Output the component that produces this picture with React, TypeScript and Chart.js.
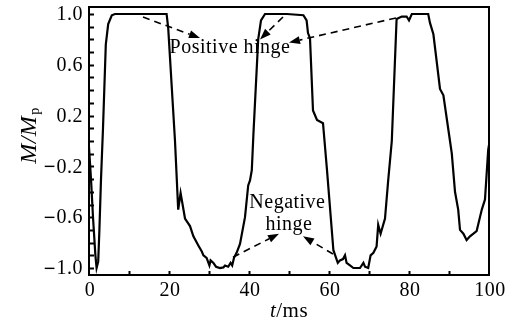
import React, { useEffect, useRef } from "react";
import { Chart, registerables } from "chart.js";

Chart.register(...registerables);

// time in ms
const timeMs = [
  0, 0.5, 1.0, 1.6, 1.9, 2.3, 2.6, 3.0, 3.5, 4.2, 4.8, 5.7, 6.5,
  19.4, 19.8, 21.5, 22.3, 22.9, 24.0, 25.25, 26.1, 27.3, 28.2, 28.6, 29.4,
  30.1, 30.4, 31.1, 31.75, 32.75, 33.6, 34.0, 34.8, 35.4, 35.8, 36.25, 36.9,
  37.75, 39.0, 39.8, 40.25, 40.7, 41.1, 42.3, 43.0, 44.0, 49.5, 53.6, 54.4,
  54.75, 55.25, 56.0, 57.0, 58.5, 59.5, 61.1, 62.2, 62.75, 63.5, 64.0, 64.4,
  65.25, 66.1, 67.75, 68.6, 69.0, 69.8, 70.4, 71.1, 71.9, 72.3, 72.9, 74.0,
  74.8, 75.7, 76.9, 78.2, 79.4, 80.0, 80.7, 84.4, 84.8, 85.25, 86.1, 87.75,
  88.6, 90.25, 90.7, 91.5, 92.3, 92.75, 93.6, 94.4, 95.25, 96.1, 96.9, 98.2,
  99.0, 99.8, 100,
];
// moment ratio M/Mp
const momentRatio = [
  -0.05, -0.3, -0.6, -0.9, -1.0, -0.95, -0.7, -0.3, 0.1, 0.76, 0.92, 0.99, 1.0,
  1.0, 0.89, 0.0, -0.54, -0.41, -0.61, -0.67, -0.75, -0.82, -0.87, -0.9, -0.92,
  -0.98, -0.94, -0.96, -0.99, -1.0, -0.995, -0.98, -0.99, -0.96, -0.98, -0.92, -0.88,
  -0.81, -0.6, -0.35, -0.31, -0.23, 0.05, 0.8, 0.95, 1.0, 1.0, 0.99, 0.95,
  0.85, 0.81, 0.24, 0.165, 0.14, -0.23, -0.86, -0.96, -0.94, -0.93, -0.9, -0.96,
  -0.98, -1.0, -1.0, -0.96, -0.99, -1.0, -0.9, -0.88, -0.83, -0.66, -0.73, -0.61,
  -0.31, 0.0, 0.96, 0.98, 0.98, 0.95, 1.0, 1.0, 1.0, 0.93, 0.84, 0.41,
  0.36, 0.0, -0.1, -0.4, -0.54, -0.7, -0.73, -0.78, -0.75, -0.73, -0.71, -0.54,
  -0.46, -0.07, -0.03,
];

const yLabelValues = [1.0, 0.6, 0.2, -0.2, -0.6, -1.0];
const yTickLabels = ["1.0", "0.6", "0.2", "\u22120.2", "\u22120.6", "\u22121.0"];
const yTickMarks = [
  -1.0, -0.9, -0.8, -0.7, -0.6, -0.5, -0.4, -0.3, -0.2, -0.1, 0,
  0.1, 0.2, 0.3, 0.4, 0.5, 0.6, 0.7, 0.8, 0.9, 1.0,
];
const xLabelValues = [0, 20, 40, 60, 80, 100];
const xTickLabels = ["0", "20", "40", "60", "80", "100"];
const xTickMarks = [10, 20, 30, 40, 50, 60, 70, 80, 90];

// annotation arrows in data units: [tailT, tailM, tipT, tipM]
const positiveArrows = [
  [13.5, 0.976, 27.75, 0.81],
  [48.5, 0.976, 42.75, 0.8],
  [76.75, 0.969, 50.0, 0.775],
];
const negativeArrows = [
  [36.0, -0.915, 47.5, -0.73],
  [61.0, -0.89, 53.5, -0.75],
];

const SERIF = '"Liberation Serif", "Times New Roman", serif';

const drawPlugin = {
  id: "decor",
  afterDraw(chart: any) {
    const ctx = chart.ctx as CanvasRenderingContext2D;
    const xs = chart.scales.x;
    const ys = chart.scales.y;
    const a = chart.chartArea;
    ctx.save();
    ctx.strokeStyle = "#000";
    ctx.fillStyle = "#000";
    // frame
    ctx.lineWidth = 2;
    ctx.strokeRect(a.left, a.top, a.right - a.left, a.bottom - a.top);
    // ticks
    ctx.lineWidth = 2;
    ctx.beginPath();
    yTickMarks.forEach((v) => {
      const py = Math.round(ys.getPixelForValue(v)) + 0.5;
      ctx.moveTo(a.left, py);
      ctx.lineTo(a.left + 5, py);
    });
    xTickMarks.forEach((v) => {
      const px = Math.round(xs.getPixelForValue(v)) + 0.5;
      ctx.moveTo(px, a.bottom);
      ctx.lineTo(px, a.bottom - 4);
    });
    ctx.stroke();

    // tick labels
    (ctx as any).letterSpacing = "0.5px";
    ctx.textBaseline = "middle";
    yLabelValues.forEach((v, i) => {
      const label = yTickLabels[i];
      const py = ys.getPixelForValue(v) + 1;
      const rx = a.left - 6;
      ctx.font = `20px ${SERIF}`;
      ctx.textAlign = "right";
      if (label.startsWith("\u2212")) {
        const rest = label.slice(1);
        ctx.fillText(rest, rx, py);
        const w = ctx.measureText(rest).width;
        ctx.font = `20px "Liberation Sans", sans-serif`;
        ctx.fillText("\u2212", rx - w - 0.5, py);
      } else {
        ctx.fillText(label, rx, py);
      }
    });
    ctx.font = `20px ${SERIF}`;
    ctx.textAlign = "center";
    ctx.textBaseline = "alphabetic";
    xLabelValues.forEach((v, i) => {
      ctx.fillText(xTickLabels[i], xs.getPixelForValue(v) + 1, a.bottom + 21);
    });

    // x title: t/ms
    ctx.textAlign = "left";
    ctx.font = `italic 21px ${SERIF}`;
    const tW = ctx.measureText("t").width;
    ctx.font = `21px ${SERIF}`;
    const rW = ctx.measureText("/ms").width;
    const cx = (a.left + a.right) / 2;
    const sx = cx - (tW + rW) / 2;
    ctx.font = `italic 21px ${SERIF}`;
    ctx.fillText("t", sx, a.bottom + 42);
    ctx.font = `21px ${SERIF}`;
    ctx.fillText("/ms", sx + tW, a.bottom + 42);

    // y title: M/Mp
    ctx.save();
    ctx.translate(36, (a.top + a.bottom) / 2 - 5);
    ctx.rotate(-Math.PI / 2);
    ctx.font = `italic 24px ${SERIF}`;
    const mW = ctx.measureText("M/M").width;
    ctx.font = `14px ${SERIF}`;
    const pW = ctx.measureText("p").width;
    const start = -(mW + pW) / 2;
    ctx.font = `italic 24px ${SERIF}`;
    ctx.fillText("M/M", start, 0);
    ctx.font = `14px ${SERIF}`;
    ctx.fillText("p", start + mW + 1, 3);
    ctx.restore();

    // annotation texts
    ctx.font = `20px ${SERIF}`;
    ctx.textAlign = "center";
    ctx.fillText("Positive hinge", xs.getPixelForValue(35.25), ys.getPixelForValue(0.69));
    ctx.fillText("Negative", xs.getPixelForValue(49.6), ys.getPixelForValue(-0.53));
    ctx.fillText("hinge", xs.getPixelForValue(50.0), ys.getPixelForValue(-0.70));

    // arrows
    const drawArrow = (arr: number[]) => {
      const x0 = xs.getPixelForValue(arr[0]);
      const y0 = ys.getPixelForValue(arr[1]);
      const x1 = xs.getPixelForValue(arr[2]);
      const y1 = ys.getPixelForValue(arr[3]);
      const ang = Math.atan2(y1 - y0, x1 - x0);
      const hl = 11;
      const hw = 4;
      const bx = x1 - hl * Math.cos(ang);
      const by = y1 - hl * Math.sin(ang);
      ctx.lineWidth = 1.6;
      ctx.setLineDash([7, 5]);
      ctx.beginPath();
      ctx.moveTo(x0, y0);
      ctx.lineTo(bx, by);
      ctx.stroke();
      ctx.setLineDash([]);
      ctx.beginPath();
      ctx.moveTo(x1, y1);
      ctx.lineTo(bx + hw * Math.sin(ang), by - hw * Math.cos(ang));
      ctx.lineTo(bx - hw * Math.sin(ang), by + hw * Math.cos(ang));
      ctx.closePath();
      ctx.fill();
    };
    positiveArrows.forEach(drawArrow);
    negativeArrows.forEach(drawArrow);
    ctx.restore();
  },
};

export default function App() {
  const ref = useRef<HTMLCanvasElement | null>(null);
  useEffect(() => {
    if (!ref.current) return;
    const points = timeMs.map((t, i) => ({ x: t, y: momentRatio[i] }));
    const chart = new Chart(ref.current, {
      type: "scatter",
      data: {
        datasets: [
          {
            data: points,
            showLine: true,
            borderColor: "#000",
            borderWidth: 2.2,
            pointRadius: 0,
            tension: 0,
            fill: false,
          },
        ],
      },
      options: {
        animation: false,
        responsive: true,
        maintainAspectRatio: false,
        layout: { padding: { left: 89, right: 28, top: 7, bottom: 53 } },
        plugins: { legend: { display: false }, tooltip: { enabled: false } },
        scales: {
          x: { type: "linear", display: false, min: 0, max: 100 },
          y: { type: "linear", display: false, min: -1.055, max: 1.055 },
        },
      },
      plugins: [drawPlugin],
    });
    return () => chart.destroy();
  }, []);
  return (
    <div style={{ position: "fixed", left: 0, top: 0, width: 517, height: 328, background: "#fff" }}>
      <canvas ref={ref} />
    </div>
  );
}
